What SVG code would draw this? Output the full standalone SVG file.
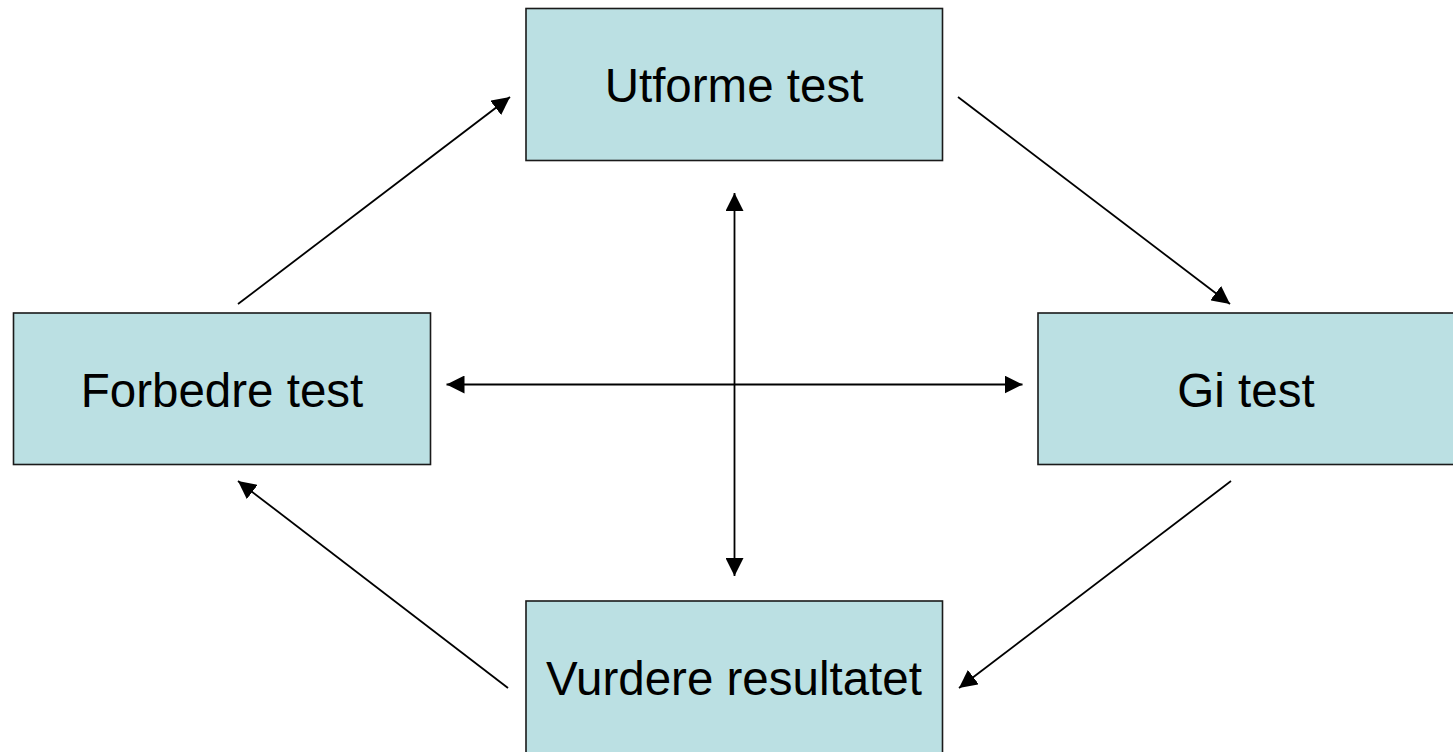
<svg xmlns="http://www.w3.org/2000/svg" width="1453" height="752" viewBox="0 0 1453 752">
<style>
.box{fill:#BBE0E3;stroke:#1a1a1a;stroke-width:1.6}
.lbl{font-family:"Liberation Sans",Arial,sans-serif;font-size:47.5px;fill:#000;text-anchor:middle}
.con{stroke:#000;stroke-width:1.8;fill:none}
</style>
<defs>
<marker id="ah" markerUnits="userSpaceOnUse" markerWidth="18" markerHeight="18" viewBox="0 0 16 16" refX="16" refY="8" orient="auto-start-reverse">
<path d="M0,0 L16,8 L0,16 Z" fill="#000"/>
</marker>
</defs>
<rect width="1453" height="752" fill="#fff"/>
<g id="connectors">
<line class="con" x1="238" y1="304" x2="510" y2="97" marker-end="url(#ah)"/>
<line class="con" x1="958" y1="97" x2="1230" y2="304" marker-end="url(#ah)"/>
<line class="con" x1="1231" y1="481" x2="959" y2="688" marker-end="url(#ah)"/>
<line class="con" x1="508" y1="688" x2="238" y2="481" marker-end="url(#ah)"/>
<line class="con" x1="734.5" y1="193" x2="734.5" y2="576" marker-start="url(#ah)" marker-end="url(#ah)"/>
<line class="con" x1="446.5" y1="384.5" x2="1022.5" y2="384.5" marker-start="url(#ah)" marker-end="url(#ah)"/>
</g>
<g id="utforme">
<rect class="box" x="526" y="8.5" width="416.5" height="152"/>
<text class="lbl" x="734" y="101.5">Utforme test</text>
</g>
<g id="forbedre">
<rect class="box" x="13.5" y="313" width="417" height="151.5"/>
<text class="lbl" x="222" y="406.5">Forbedre test</text>
</g>
<g id="gi">
<rect class="box" x="1038" y="313" width="417" height="151.5"/>
<text class="lbl" x="1246" y="406.5">Gi test</text>
</g>
<g id="vurdere">
<rect class="box" x="526" y="601" width="416.5" height="152"/>
<text class="lbl" x="734" y="694.5">Vurdere resultatet</text>
</g>
</svg>
